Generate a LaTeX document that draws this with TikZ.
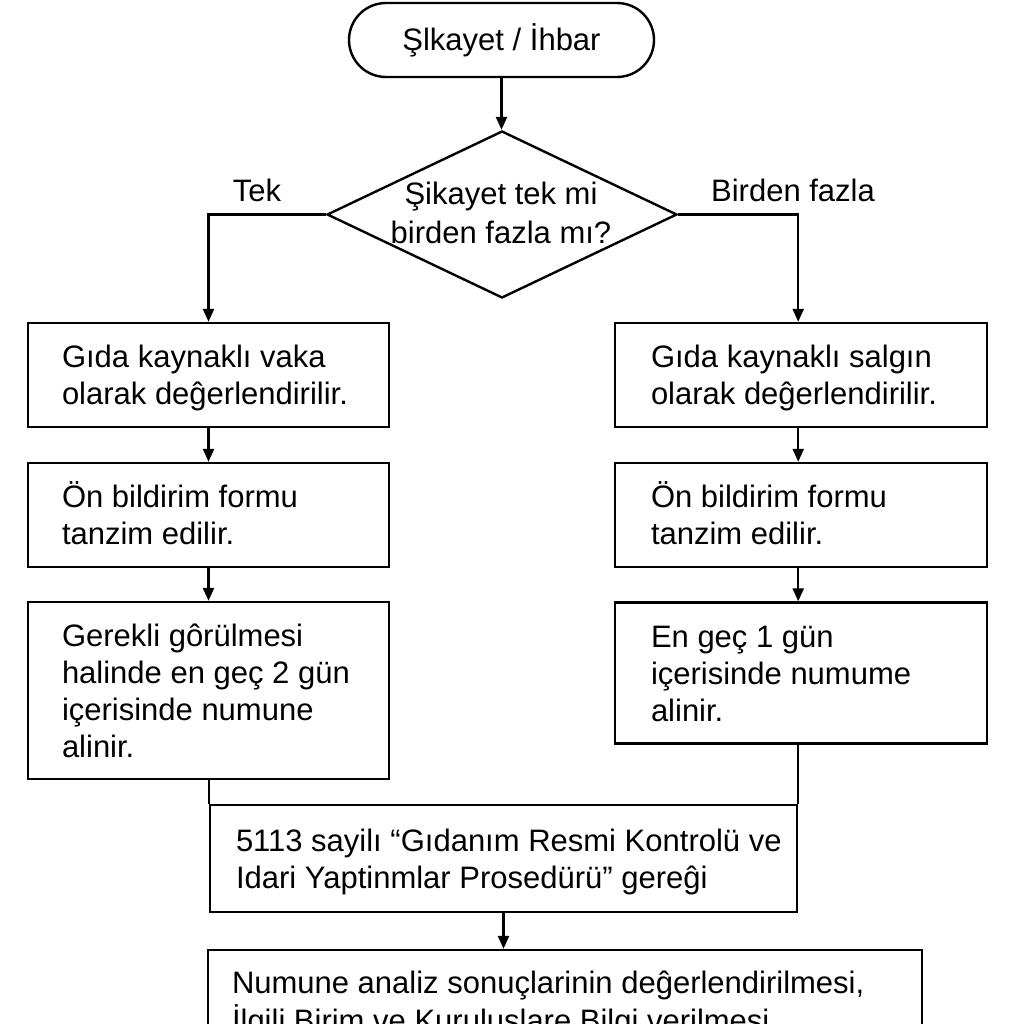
\documentclass[tikz,border=0pt]{standalone}
\usepackage{fontspec}
\setmainfont{Liberation Sans}
\usetikzlibrary{shapes.geometric,arrows.meta}
\newcommand\bxtext[2]{\raisebox{-4pt}[\height][\depth]{\makebox[#1][l]{\begin{tabular}{@{}l@{}}#2\end{tabular}}}}
\begin{document}
\begin{tikzpicture}[x=1pt,y=-1pt,
  every node/.style={font=\fontsize{31}{37}\selectfont},
  line/.style={line width=2.4pt},
  arr/.style={line width=2.4pt, -{Triangle[length=13pt,width=11pt]}},
  box/.style={draw, line width=2.4pt, rectangle, inner sep=0pt},
  term/.style={draw, line width=2.4pt, rectangle, rounded corners=37pt, minimum width=305pt, minimum height=74pt, inner sep=0pt},
  dec/.style={draw, line width=2.4pt, diamond, inner sep=0pt, minimum width=350pt, minimum height=167pt},
  lbl/.style={inner sep=0pt}]
\useasboundingbox (0,0) rectangle (1024,1024);
\clip (0,0) rectangle (1024,1024);

\node[term] (start) at (501.5,40) {Şlkayet / İhbar};
\node[dec] (d) at (502,214.5) {};
\node[lbl, align=center] (dq) at (501,213) {Şikayet tek mi\\[2pt]birden fazla mı?};

\node[box, minimum width=361pt, minimum height=104pt] (L1) at (208.5,375)
  {\bxtext{293pt}{Gıda kaynaklı vaka\\olarak deĝerlendirilir.}};
\node[box, minimum width=361pt, minimum height=104pt] (L2) at (208.5,515)
  {\bxtext{293pt}{Ön bildirim formu\\tanzim edilir.}};
\node[box, minimum width=361pt, minimum height=177pt] (L3) at (208.5,690.5)
  {\bxtext{293pt}{Gerekli gôrülmesi\\halinde en geç 2 gün\\içerisinde numune\\alinir.}};

\node[box, minimum width=372pt, minimum height=104pt] (R1) at (801,375)
  {\bxtext{300pt}{Gıda kaynaklı salgın\\olarak deĝerlendirilir.}};
\node[box, minimum width=372pt, minimum height=104pt] (R2) at (801,515)
  {\bxtext{300pt}{Ön bildirim formu\\tanzim edilir.}};
\node[box, minimum width=372pt, minimum height=141pt] (R3) at (801,673)
  {\bxtext{300pt}{En geç 1 gün\\içerisinde numume\\alinir.}};

\node[box, minimum width=587pt, minimum height=107pt] (P) at (503.5,858.5)
  {\bxtext{535pt}{5113 sayilı “Gıdanım Resmi Kontrolü ve\\Idari Yaptinmlar Prosedürü” gereĝi}};

\node[box, minimum width=714pt, minimum height=102pt] (B) at (565,1001)
  {\bxtext{666pt}{Numune analiz sonuçlarinin deĝerlendirilmesi,\\İlgili Birim ve Kuruluslare Bilgi verilmesi}};

\node[lbl] (tek) at (257,190) {Tek};
\node[lbl] (bf) at (793,190) {Birden fazla};

\draw[arr] (start.south) -- (start.south |- d.north);
\draw[arr] (d.west) -| (L1.north);
\draw[arr] (d.east) -| (R1.north -| P.east);
\draw[arr] (L1.south) -- (L2.north);
\draw[arr] (L2.south) -- (L3.north);
\draw[arr] (R1.south -| P.east) -- (R2.north -| P.east);
\draw[arr] (R2.south -| P.east) -- (R3.north -| P.east);
\draw[line] (L3.south -| P.north west) -- (P.north west);
\draw[line] (R3.south -| P.north east) -- (P.north east);
\draw[arr] (P.south) -- (P.south |- B.north);
\end{tikzpicture}
\end{document}
